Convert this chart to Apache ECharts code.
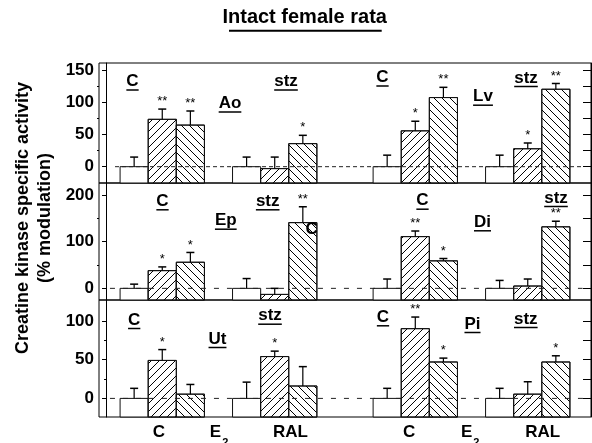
<!DOCTYPE html>
<html><head><meta charset="utf-8">
<script src="https://cdn.jsdelivr.net/npm/echarts@6/dist/echarts.min.js"></script>
<style>html,body{margin:0;padding:0;background:#fff}#c{width:592px;height:443px}</style>
</head><body><div id="c"></div>
<script>
// ---------- DATA ----------
const treatments = ['C', 'E2', 'RAL'];
const tissues = ['Ao', 'Lv', 'Ep', 'Di', 'Ut', 'Pi'];
const groupNames = ['C', 'stz'];

// % modulation [C, E2, RAL], SEM, significance
const aoCtrl = [0, 74, 65],   aoCtrlErr = [15, 16, 22], aoCtrlSig = ['', '**', '**'];
const aoStz  = [0, -3, 36],   aoStzErr  = [15, 18, 13], aoStzSig  = ['', '', '*'];
const lvCtrl = [0, 56, 108],  lvCtrlErr = [18, 15, 16], lvCtrlSig = ['', '*', '**'];
const lvStz  = [0, 28, 121],  lvStzErr  = [18, 9, 9],   lvStzSig  = ['', '*', '**'];
const epCtrl = [0, 38, 56],   epCtrlErr = [9, 8, 21],   epCtrlSig = ['', '*', '*'];
const epStz  = [0, -13, 141], epStzErr  = [21, 13, 34], epStzSig  = ['', '', '**'];
const diCtrl = [0, 111, 59],  diCtrlErr = [20, 12, 5],  diCtrlSig = ['', '**', '*'];
const diStz  = [0, 5, 132],   diStzErr  = [17, 15, 12], diStzSig  = ['', '', '**'];
const utCtrl = [0, 49, 5.5],  utCtrlErr = [13, 14, 12.5], utCtrlSig = ['', '*', ''];
const utStz  = [0, 54, 16],   utStzErr  = [21, 7, 25],  utStzSig  = ['', '*', ''];
const piCtrl = [0, 90, 47],   piCtrlErr = [13, 15, 5],  piCtrlSig = ['', '**', '*'];
const piStz  = [0, 5.5, 47],  piStzErr  = [13, 16, 8],  piStzSig  = ['', '', '*'];

const yTickLabels = [[0, 50, 100, 150], [0, 100, 200], [0, 50, 100]];
const yMinorTicks = [[25, 75, 125], [50, 150], [25, 75]];
const yRightTicks = [[0, 25, 50, 75, 100, 125, 150], [0, 50, 100, 150, 200], [0, 25, 50, 75, 100]];
const xLabels = ['C', 'E2', 'RAL', 'C', 'E2', 'RAL'];

// ---------- LAYOUT ----------
const FONT = '"Liberation Sans", Arial, Helvetica, sans-serif';
const panelData = {
  Ao: [[aoCtrl, aoCtrlErr, aoCtrlSig], [aoStz, aoStzErr, aoStzSig]],
  Lv: [[lvCtrl, lvCtrlErr, lvCtrlSig], [lvStz, lvStzErr, lvStzSig]],
  Ep: [[epCtrl, epCtrlErr, epCtrlSig], [epStz, epStzErr, epStzSig]],
  Di: [[diCtrl, diCtrlErr, diCtrlSig], [diStz, diStzErr, diStzSig]],
  Ut: [[utCtrl, utCtrlErr, utCtrlSig], [utStz, utStzErr, utStzSig]],
  Pi: [[piCtrl, piCtrlErr, piCtrlSig], [piStz, piStzErr, piStzSig]]
};
const groupStart = [1, 5, 10, 14];
const rowTop = [63, 183, 300], rowHeight = [120, 117, 117];
const rowMin = [-25.5, -25, -24], rowMax = [162, 226, 127];
const zeroFrom = [0.32, 0.14, 0.14], zeroTo = [16.97, 16.95, 17.25];
const zeroDash = [[4, 3], [5, 8], [5, 8]];
const xLabelAt = [1.88, 4.02, 6.56, 10.78, 12.95, 15.53];

function hatch(x0, y0, x1, y1, dir, s) {
  const segs = [];
  if (dir > 0) {
    for (let c = Math.ceil((x0 + y0) / s) * s; c <= x1 + y1; c += s) {
      const xa = Math.max(x0, c - y1), xb = Math.min(x1, c - y0);
      if (xb - xa > 0.5) segs.push([xa, c - xa, xb, c - xb]);
    }
  } else {
    for (let c = Math.ceil((x0 - y1) / s) * s; c <= x1 - y0; c += s) {
      const xa = Math.max(x0, c + y0), xb = Math.min(x1, c + y1);
      if (xb - xa > 0.5) segs.push([xa, xa - c, xb, xb - c]);
    }
  }
  return segs;
}

const grids = [], xAxes = [], yAxes = [], series = [];
for (let r = 0; r < 3; r++) {
  grids.push({left: 99, right: 1, top: rowTop[r], height: rowHeight[r], show: true,
    containLabel: false, outerBoundsMode: 'none',
    borderColor: '#000', borderWidth: 1, backgroundColor: 'transparent'});
  xAxes.push({type: 'value', gridIndex: r, min: -0.25, max: 17.25, show: false});
  const axisFont = {fontFamily: FONT, fontWeight: 'bold', fontSize: 17, color: '#000'};
  yAxes.push({type: 'value', gridIndex: r, position: 'left', min: rowMin[r], max: rowMax[r],
    axisLine: {show: true, lineStyle: {color: '#000', width: 1}},
    axisTick: {show: true, customValues: yTickLabels[r], length: 4, lineStyle: {color: '#000'}},
    axisLabel: Object.assign({show: true, customValues: yTickLabels[r], margin: 5}, axisFont),
    splitLine: {show: false}});
  yAxes.push({type: 'value', gridIndex: r, position: 'left', min: rowMin[r], max: rowMax[r],
    axisLine: {show: false},
    axisTick: {show: true, customValues: yMinorTicks[r], length: 2, lineStyle: {color: '#000'}},
    axisLabel: {show: false}, splitLine: {show: false}});
  yAxes.push({type: 'value', gridIndex: r, position: 'right', min: rowMin[r], max: rowMax[r],
    axisLine: {show: true, lineStyle: {color: '#000', width: 1}},
    axisTick: {show: true, inside: true, customValues: yRightTicks[r], length: 8, lineStyle: {color: '#000'}},
    axisLabel: {show: false}, splitLine: {show: false}});

  const items = [];
  for (let side = 0; side < 2; side++) {
    const tissue = tissues[2 * r + side];
    for (let g = 0; g < 2; g++) {
      const [vals, errs, sigs] = panelData[tissue][g];
      for (let t = 0; t < treatments.length; t++) {
        items.push({x: groupStart[2 * side + g] + t, v: vals[t], e: errs[t], t: t, s: sigs[t]});
      }
    }
  }
  const base = rowMin[r];
  series.push({
    type: 'custom', xAxisIndex: r, yAxisIndex: 3 * r, z: 3, silent: true,
    data: items.map(d => [d.x, d.v, d.e]),
    encode: {x: 0, y: 1},
    renderItem: function (params, api) {
      const d = items[params.dataIndex];
      const x = api.value(0), v = api.value(1), e = api.value(2);
      const p0 = api.coord([x, base]);
      const p1 = api.coord([x, v]);
      const w = api.size([1, 0])[0];
      const x0 = p0[0] - w / 2, x1 = p0[0] + w / 2;
      const yTop = p1[1], yBot = p0[1];
      const ch = [];
      ch.push({type: 'rect', shape: {x: x0, y: yTop, width: w, height: yBot - yTop},
        style: {fill: '#fff', stroke: '#111', lineWidth: 1}});
      if (d.t > 0) {
        const segs = hatch(x0, yTop, x1, yBot, d.t === 1 ? 1 : -1, 8);
        segs.forEach(sg => ch.push({type: 'line', shape: {x1: sg[0], y1: sg[1], x2: sg[2], y2: sg[3]},
          style: {stroke: '#000', lineWidth: 1}}));
        ch.push({type: 'rect', shape: {x: x0, y: yTop, width: w, height: yBot - yTop},
          style: {fill: 'none', stroke: '#111', lineWidth: 1}});
      }
      const pe = api.coord([x, v + e]);
      const cx = p0[0];
      ch.push({type: 'line', shape: {x1: cx, y1: yTop, x2: cx, y2: pe[1]}, style: {stroke: '#000', lineWidth: 1.2}});
      ch.push({type: 'line', shape: {x1: cx - 4, y1: pe[1], x2: cx + 4, y2: pe[1]}, style: {stroke: '#000', lineWidth: 1.5}});
      if (d.s) {
        ch.push({type: 'text', x: cx, y: pe[1] - 1,
          style: {text: d.s, fill: '#000', font: '13px ' + FONT, align: 'center', verticalAlign: 'bottom',
            textAlign: 'center', textVerticalAlign: 'bottom'}});
      }
      return {type: 'group', children: ch};
    }
  });
  series.push({
    type: 'line', xAxisIndex: r, yAxisIndex: 3 * r, z: 5, silent: true, symbol: 'none',
    data: [[zeroFrom[r], 0], [zeroTo[r], 0]],
    lineStyle: {type: zeroDash[r], color: '#222', width: 1}
  });
}
xAxes.push({type: 'value', gridIndex: 2, position: 'bottom', min: -0.25, max: 17.25,
  axisLine: {show: false}, axisTick: {show: false}, splitLine: {show: false},
  axisLabel: {show: true, customValues: xLabelAt, margin: 7, fontFamily: FONT, fontWeight: 'bold',
    fontSize: 17, color: '#000',
    formatter: function (val) {
      const i = xLabelAt.findIndex(p => Math.abs(p - val) < 1e-6);
      const t = i >= 0 ? xLabels[i] : '';
      return t === 'E2' ? '{e|E}{s|2}' : t;
    },
    rich: {
      e: {fontFamily: FONT, fontWeight: 'bold', fontSize: 17, color: '#000', padding: [0, 0, 7, 0]},
      s: {fontFamily: FONT, fontWeight: 'bold', fontSize: 11, color: '#000', padding: [13, 0, 0, 1]}
    }
  }});

// ---------- ANNOTATIONS ----------
const meas = document.createElement('canvas').getContext('2d');
function textW(t, f) { meas.font = f; return meas.measureText(t).width; }
const LBL = 'bold 17px ' + FONT;
const panelLabels = [
  [groupNames[0], 132.5, 87.5, 1], [groupNames[1], 286, 87.5, 1], [tissues[0], 230, 109.5, 1],
  [groupNames[0], 382.5, 83.5, 1], [tissues[1], 483, 102.7, 1], [groupNames[1], 526, 84, 1],
  [groupNames[0], 162.5, 207.3, 1], [groupNames[1], 267.7, 207.3, 1], [tissues[2], 225.8, 226.7, 1], ['C', 311.7, 235, 0],
  [groupNames[0], 422.5, 206.7, 1], [tissues[3], 482.5, 228.3, 1], [groupNames[1], 556, 204, 1],
  [groupNames[0], 134.2, 326, 1], [groupNames[1], 270, 321.7, 1], [tissues[4], 217.5, 345, 1],
  [groupNames[0], 383, 323.3, 1], [tissues[5], 472.5, 330, 1], [groupNames[1], 525.8, 325, 1]
];
const graphics = [];
panelLabels.forEach(([t, cx, bl, ul]) => {
  graphics.push({type: 'text', x: cx, y: bl - 6, z: 10,
    style: {text: t, font: LBL, fill: '#000', align: 'center', verticalAlign: 'middle',
      textAlign: 'center', textVerticalAlign: 'middle'}});
  if (ul) {
    const w = textW(t, LBL);
    graphics.push({type: 'line', z: 10, shape: {x1: cx - w / 2, y1: bl + 2.5, x2: cx + w / 2, y2: bl + 2.5},
      style: {stroke: '#000', lineWidth: 1.5}});
  }
});
graphics.push({type: 'text', x: 304.7, y: 17.3, style: {text: 'Intact female rata', font: 'bold 20px ' + FONT,
  fill: '#000', align: 'center', verticalAlign: 'middle', textAlign: 'center', textVerticalAlign: 'middle'}});
graphics.push({type: 'line', shape: {x1: 229, y1: 30.7, x2: 381.7, y2: 30.7}, style: {stroke: '#000', lineWidth: 2}});
graphics.push({type: 'text', x: 23, y: 218, rotation: Math.PI / 2,
  style: {text: 'Creatine kinase specific activity', font: 'bold 18px ' + FONT, fill: '#000',
    align: 'center', verticalAlign: 'middle', textAlign: 'center', textVerticalAlign: 'middle'}});
graphics.push({type: 'text', x: 45, y: 218, rotation: Math.PI / 2,
  style: {text: '(% modulation)', font: 'bold 18px ' + FONT, fill: '#000',
    align: 'center', verticalAlign: 'middle', textAlign: 'center', textVerticalAlign: 'middle'}});

const chart = echarts.init(document.getElementById('c'), null, {renderer: 'canvas'});
chart.setOption({
  animation: false,
  backgroundColor: '#fff',
  grid: grids, xAxis: xAxes, yAxis: yAxes, series: series, graphic: graphics
});
</script></body></html>
